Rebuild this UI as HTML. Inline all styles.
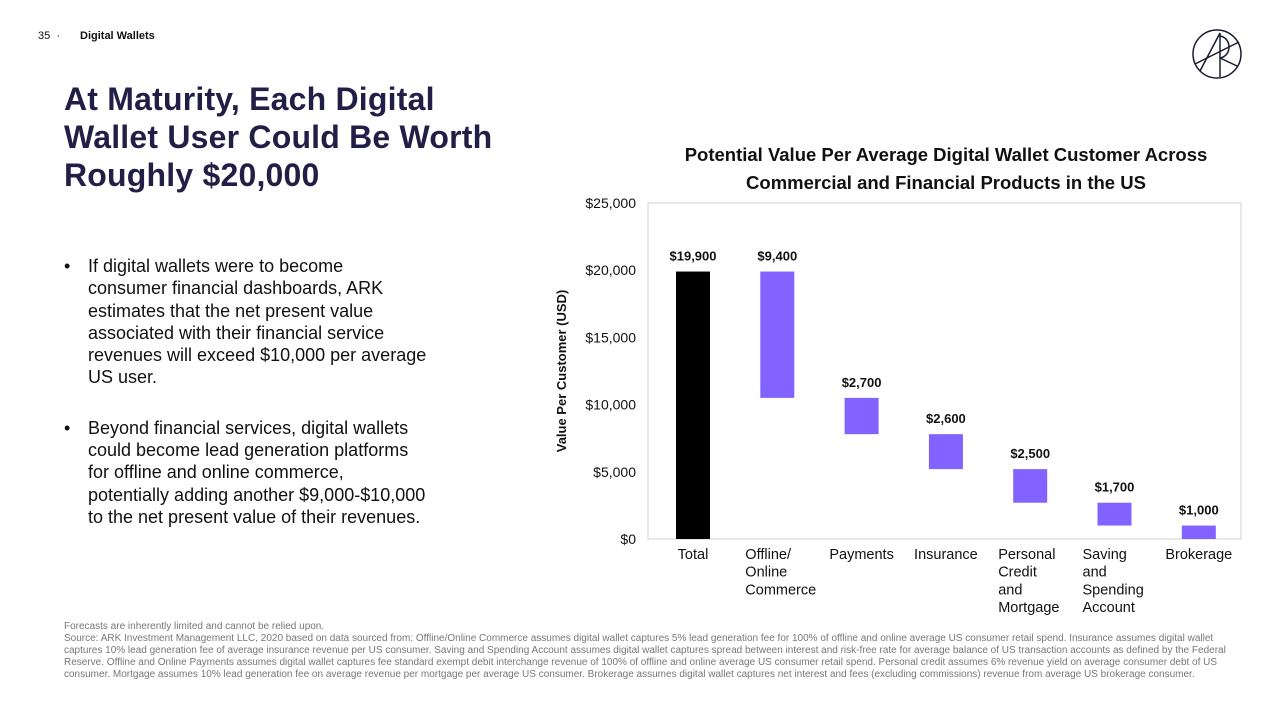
<!DOCTYPE html>
<html><head><meta charset="utf-8"><style>
body{margin:0;width:1280px;height:720px;background:#fff;font-family:"Liberation Sans",sans-serif;position:relative;overflow:hidden;color:#111}
.abs{position:absolute}
#title{left:64px;top:80px;font-size:32px;font-weight:bold;line-height:38px;color:#221f47;letter-spacing:0.2px}
ul{margin:0;padding:0;list-style:none}
li{position:relative;padding-left:24px;font-size:18px;line-height:22.3px;margin-bottom:28px;color:#111;white-space:nowrap}
li:before{content:"•";position:absolute;left:0;top:0}
#foot{left:64px;top:621px;width:1172px;font-size:10px;line-height:12px;color:#777}
</style></head><body>
<div class="abs" style="left:38px;top:30px;font-size:11px">35 &nbsp;·&nbsp;</div>
<div class="abs" style="left:80px;top:30px;font-size:11px;font-weight:bold">Digital Wallets</div>
<svg class="abs" style="left:1190px;top:28px" width="54" height="52" viewBox="0 0 54 52"><g fill="none" stroke="#1a1a2e" stroke-width="1.5"><circle cx="27" cy="26" r="24"/><line x1="10" y1="43" x2="30" y2="5"/><line x1="30" y1="5" x2="30" y2="49"/><path d="M30 8 C42 10 42 28 30 30"/><line x1="5" y1="36" x2="49" y2="14"/><line x1="30" y1="30" x2="47" y2="38"/></g></svg>
<div class="abs" id="title">At Maturity, Each Digital<br>Wallet User Could Be Worth<br>Roughly $20,000</div>
<div class="abs" style="left:64px;top:255px;width:430px">
<ul>
<li>If digital wallets were to become<br>consumer financial dashboards, ARK<br>estimates that the net present value<br>associated with their financial service<br>revenues will exceed $10,000 per average<br>US user.</li>
<li>Beyond financial services, digital wallets<br>could become lead generation platforms<br>for offline and online commerce,<br>potentially adding another $9,000-$10,000<br>to the net present value of their revenues.</li>
</ul></div>
<div class="abs" id="foot">Forecasts are inherently limited and cannot be relied upon.<br>Source: ARK Investment Management LLC, 2020 based on data sourced from: Offline/Online Commerce assumes digital wallet captures 5% lead generation fee for 100% of offline and online average US consumer retail spend. Insurance assumes digital wallet captures 10% lead generation fee of average insurance revenue per US consumer. Saving and Spending Account assumes digital wallet captures spread between interest and risk-free rate for average balance of US transaction accounts as defined by the Federal Reserve. Offline and Online Payments assumes digital wallet captures fee standard exempt debit interchange revenue of 100% of offline and online average US consumer retail spend. Personal credit assumes 6% revenue yield on average consumer debt of US consumer. Mortgage assumes 10% lead generation fee on average revenue per mortgage per average US consumer. Brokerage assumes digital wallet captures net interest and fees (excluding commissions) revenue from average US brokerage consumer.</div>
<svg class="abs" id="chart" style="left:0;top:0" width="1280" height="720"></svg>
<script>
const categories=[["Total"],["Offline/","Online","Commerce"],["Payments"],["Insurance"],["Personal","Credit","and","Mortgage"],["Saving","and","Spending","Account"],["Brokerage"]];
const values=[19900,9400,2700,2600,2500,1700,1000];
const valueLabels=["$19,900","$9,400","$2,700","$2,600","$2,500","$1,700","$1,000"];
const yTicks=[0,5000,10000,15000,20000,25000];
const yTickLabels=["$0","$5,000","$10,000","$15,000","$20,000","$25,000"];
const svg=document.getElementById('chart');
const NS='http://www.w3.org/2000/svg';
const L=648,R=1241,T=203,B=539,yMax=25000;
const y=v=>B-(v/yMax)*(B-T);
const band=84.3;
const xc=i=>693+band*i;
function mk(tag,a,txt){const e=document.createElementNS(NS,tag);for(const k in a)e.setAttribute(k,a[k]);if(txt!=null)e.textContent=txt;svg.appendChild(e);return e;}
let e;
e=mk('text',{x:946,y:161,'text-anchor':'middle','font-size':18.5,'font-weight':'bold',fill:'#111'},'Potential Value Per Average Digital Wallet Customer Across');


e=mk('text',{x:946,y:189,'text-anchor':'middle','font-size':18.5,'font-weight':'bold',fill:'#111'},'Commercial and Financial Products in the US');


e=mk('rect',{x:L,y:T,width:R-L,height:B-T,fill:'none',stroke:'#d0d0d0','stroke-width':1});


yTicks.forEach((t,i)=>{
 e=mk('text',{x:636,y:y(t)+5,'text-anchor':'end','font-size':14,fill:'#111'},yTickLabels[i]);
 
 
});
e=mk('text',{x:0,y:0,transform:'translate(566,371) rotate(-90)','text-anchor':'middle','font-size':13,'font-weight':'bold',fill:'#111'},'Value Per Customer (USD)');


let run=values[0];
values.forEach((v,i)=>{
 let top,bot;
 if(i===0){top=v;bot=0;}else{top=run;bot=run-v;run=bot;}
 const bw=34;
 e=mk('rect',{x:xc(i)-bw/2,y:y(top),width:bw,height:y(bot)-y(top),fill:i===0?'#000':'#8263ff'});
 
 
 e=mk('text',{x:xc(i),y:y(top)-11,'text-anchor':'middle','font-size':13,'font-weight':'bold',fill:'#111'},valueLabels[i]);
 
 
 const lines=categories[i];
 lines.forEach((ln,j)=>{
  e=mk('text',{x:lines.length>1?xc(i)-32:xc(i),y:559+j*17.7,'text-anchor':lines.length>1?'start':'middle','font-size':14.5,fill:'#111'},ln);
  
  
 });
});
</script>
</body></html>
